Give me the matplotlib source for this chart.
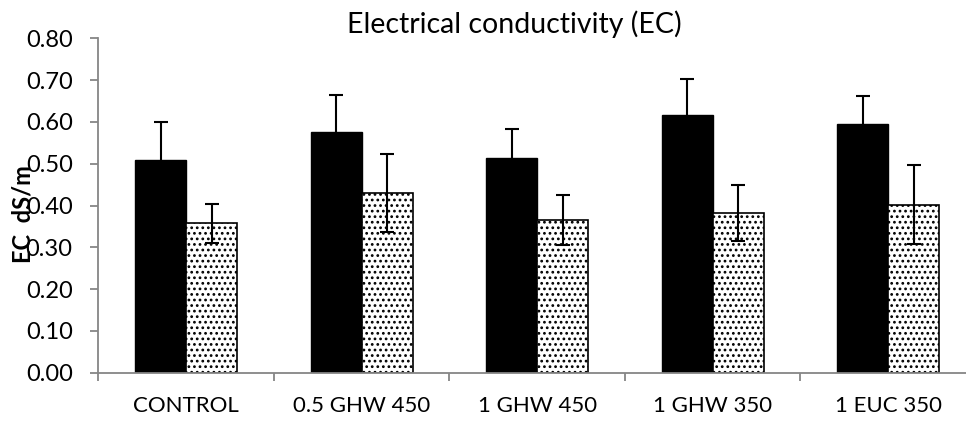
import matplotlib
matplotlib.use("Agg")
import matplotlib.pyplot as plt
import numpy as np

categories = ["CONTROL", "0.5 GHW 450", "1 GHW 450", "1 GHW 350", "1 EUC 350"]
solid_vals = [0.51, 0.576, 0.513, 0.616, 0.594]
solid_err = [0.089, 0.088, 0.069, 0.086, 0.067]
dotted_vals = [0.357, 0.43, 0.366, 0.382, 0.402]
dotted_err = [0.047, 0.093, 0.06, 0.068, 0.095]
yticks = [0.0, 0.1, 0.2, 0.3, 0.4, 0.5, 0.6, 0.7, 0.8]

plt.rcParams['font.family'] = ['Lato', 'DejaVu Sans']
plt.rcParams['hatch.linewidth'] = 1.2
plt.rcParams['hatch.color'] = '#333333'

grey = '#868686'
w = 0.29
x = np.arange(len(categories))

fig = plt.figure(figsize=(9.66, 4.22), dpi=100)
ax = fig.add_axes([0.1018, 0.1168, 0.9085, 0.7924])

ax.bar(x - w/2, solid_vals, w, color='black', edgecolor='black', linewidth=1,
       yerr=solid_err, error_kw=dict(ecolor='black', elinewidth=1.5, capsize=5, capthick=1.5))
ax.bar(x + w/2, dotted_vals, w, color='white', edgecolor='black', linewidth=1.2,
       hatch='...',
       yerr=dotted_err, error_kw=dict(ecolor='black', elinewidth=1.5, capsize=5, capthick=1.5))

ax.set_xlim(-0.5, 4.5)
ax.set_ylim(0, 0.8)
ax.set_yticks(yticks)
ax.set_yticklabels([f"{v:.2f}" for v in yticks])
ax.set_xticks(x)
ax.set_xticklabels(categories)
ax.set_xticks(np.arange(-0.5, 5.0, 1.0), minor=True)

for s in ['top', 'right']:
    ax.spines[s].set_visible(False)
for s in ['left', 'bottom']:
    ax.spines[s].set_color(grey)
    ax.spines[s].set_linewidth(1.3)

ax.tick_params(axis='y', direction='out', length=5.5, width=1.3, color=grey, pad=13, labelsize=17)
ax.tick_params(axis='x', which='major', length=0, pad=17, labelsize=16)
ax.tick_params(axis='x', which='minor', direction='out', length=5.5, width=1.3, color=grey)

ax.set_ylabel("EC  dS/m", fontsize=17, fontweight='bold')
ax.yaxis.set_label_coords(-0.073, 0.473)

fig.text(0.532, 0.943, "Electrical conductivity (EC)", ha='center', va='center', fontsize=20.5)

fig.savefig("out.png", dpi=100)
